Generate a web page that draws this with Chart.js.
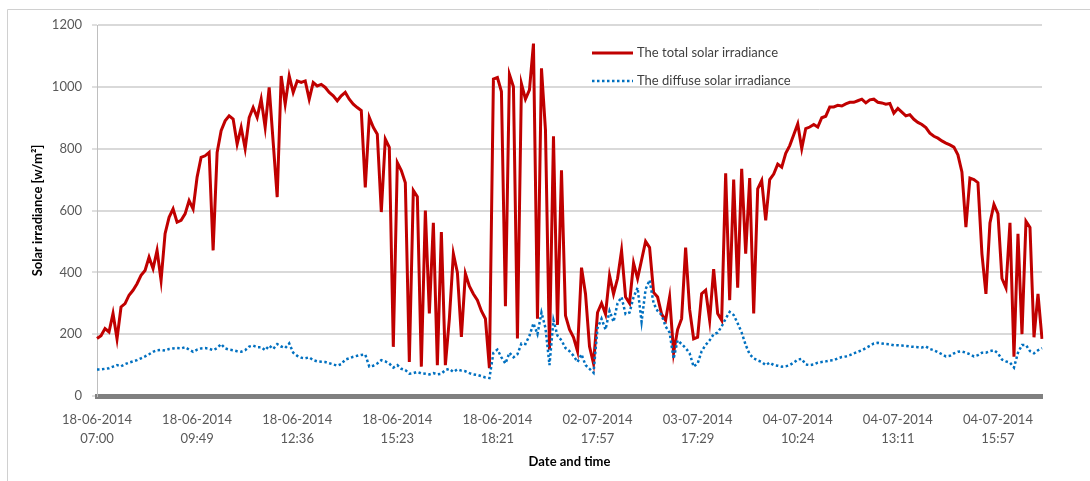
<!DOCTYPE html>
<html>
<head>
<meta charset="utf-8">
<script src="https://cdn.jsdelivr.net/npm/chart.js@4"></script>
<style>
  html, body { margin: 0; padding: 0; background: #fff; }
  #wrap { position: relative; width: 1090px; height: 481px; }
</style>
</head>
<body>
<div id="wrap"><canvas id="solar" width="1090" height="481"></canvas></div>
<script>
// readings, one every ~4 min of plotted time
var totalSolar = [
  186,195,218,207,267,185,288,299,326,342,
  363,390,406,449,412,471,374,525,578,605,
  562,568,589,632,605,708,772,777,788,471,
  788,858,890,906,896,815,869,800,900,933,
  901,960,869,998,820,643,1035,944,1035,982,
  1019,1014,1019,960,1014,1003,1008,998,982,971,
  955,971,982,960,944,933,923,675,901,869,
  847,595,831,804,159,755,729,690,110,665,
  645,95,600,267,560,100,530,100,250,460,
  400,191,396,355,330,310,275,250,90,1025,
  1030,985,290,1040,1000,186,1010,960,990,1140,
  250,1060,860,150,840,230,730,260,215,190,
  145,415,330,160,105,270,300,265,390,330,
  380,470,320,300,430,380,440,500,480,335,
  320,265,245,320,140,215,250,480,280,185,
  190,331,342,245,410,267,245,720,310,700,
  350,735,460,705,267,670,697,568,700,718,
  750,740,785,810,845,880,800,865,870,878,
  870,900,905,935,935,940,938,945,950,950,
  955,960,948,958,960,950,948,944,946,915,
  930,918,906,910,895,885,878,868,850,840,
  834,825,818,812,805,780,725,546,705,700,
  690,460,330,560,620,590,380,350,560,127,
  525,200,565,545,190,330,185
];

var diffuseSolar = [
  86,86,88,90,95,100,96,103,108,112,
  116,122,128,135,143,148,149,147,152,154,
  155,154,158,150,143,150,154,155,153,148,
  155,168,154,150,148,145,143,148,160,163,
  158,158,148,163,152,168,160,155,170,140,
  130,124,122,125,116,112,111,110,106,102,
  98,103,118,122,127,130,133,134,95,98,
  105,116,112,105,92,100,88,84,72,74,
  78,73,72,70,74,70,72,84,88,78,
  86,82,80,74,70,68,64,60,58,140,
  150,125,105,140,125,135,170,168,195,235,
  200,270,220,100,245,195,180,155,145,130,
  110,135,100,88,75,220,250,215,275,240,
  300,320,265,270,320,350,240,345,375,300,
  275,262,225,205,120,180,168,155,138,95,
  105,145,165,180,200,205,225,250,272,262,
  235,205,165,135,122,115,110,100,108,100,
  98,95,96,100,108,118,120,102,100,102,
  108,110,112,115,116,122,126,128,132,138,
  143,148,155,162,170,172,170,168,167,164,
  164,163,162,160,159,158,157,160,152,148,
  142,135,128,130,138,143,144,140,135,128,
  132,140,140,145,148,138,118,112,108,92,
  140,165,165,145,138,148,155
];

var tickLabels = [
  ['18-06-2014', '07:00'],
  ['18-06-2014', '09:49'],
  ['18-06-2014', '12:36'],
  ['18-06-2014', '15:23'],
  ['18-06-2014', '18:21'],
  ['02-07-2014', '17:57'],
  ['03-07-2014', '17:29'],
  ['04-07-2014', '10:24'],
  ['04-07-2014', '13:11'],
  ['04-07-2014', '15:57']
];
var labelStep = 25;

var seriesNames = ['The total solar irradiance', 'The diffuse solar irradiance'];

var FONT = 'Lato, "Liberation Sans", sans-serif';

// category per sample
var labels = [];
for (var i = 0; i < totalSolar.length; i++) {
  labels.push(i);
}

// white background + the thin frame on top/left
var framePlugin = {
  id: 'frame',
  beforeDraw: function (chart) {
    var c = chart.ctx;
    c.save();
    c.fillStyle = '#ffffff';
    c.fillRect(0, 0, chart.width, chart.height);
    c.strokeStyle = '#d0d0d0';
    c.lineWidth = 1;
    c.beginPath();
    c.moveTo(7.5, chart.height);
    c.lineTo(7.5, 9.5);
    c.lineTo(chart.width, 9.5);
    c.stroke();
    c.restore();
  }
};

// legend sits inside the plot, upper right
var legendPlugin = {
  id: 'insideLegend',
  afterDraw: function (chart) {
    var c = chart.ctx;
    var x0 = 592, x1 = 633;
    var rows = [53, 81];
    c.save();
    c.font = '13px ' + FONT;
    c.fillStyle = '#404040';
    c.textBaseline = 'middle';
    for (var k = 0; k < chart.data.datasets.length; k++) {
      var ds = chart.data.datasets[k];
      c.beginPath();
      c.strokeStyle = ds.borderColor;
      c.lineWidth = ds.borderWidth;
      c.setLineDash(ds.borderDash || []);
      c.moveTo(x0, rows[k]);
      c.lineTo(x1, rows[k]);
      c.stroke();
      c.setLineDash([]);
      c.fillText(ds.label, x1 + 4, rows[k]);
    }
    c.restore();
  }
};

var ctx = document.getElementById('solar').getContext('2d');
var solarChart = new Chart(ctx, {
  type: 'line',
  data: {
    labels: labels,
    datasets: [
      {
        label: seriesNames[0],
        data: totalSolar,
        borderColor: '#c00000',
        borderWidth: 3,
        pointRadius: 0,
        tension: 0,
        order: 1
      },
      {
        label: seriesNames[1],
        data: diffuseSolar,
        borderColor: '#0070c0',
        borderWidth: 2.5,
        borderDash: [2.5, 2.5],
        pointRadius: 0,
        tension: 0,
        order: 0
      }
    ]
  },
  options: {
    responsive: false,
    animation: false,
    events: [],
    layout: { padding: { left: 0, top: 25, right: 48, bottom: 0 } },
    plugins: {
      legend: { display: false },
      tooltip: { enabled: false }
    },
    scales: {
      x: {
        type: 'category',
        offset: false,
        grid: { display: false, drawTicks: false },
        border: { display: true, color: '#808080', width: 5 },
        ticks: {
          autoSkip: false,
          maxRotation: 0,
          minRotation: 0,
          padding: 15,
          color: '#595959',
          font: { family: FONT, size: 13, lineHeight: 1.42 },
          callback: function (val, idx) {
            return idx % labelStep === 0 ? tickLabels[idx / labelStep] : '';
          }
        },
        title: {
          display: true,
          text: 'Date and time',
          color: '#000000',
          font: { family: FONT, size: 13, weight: 'bold' },
          padding: { top: 0, bottom: 11 }
        },
        afterFit: function (scale) { scale.height = 85; }
      },
      y: {
        min: 0,
        max: 1200,
        ticks: {
          stepSize: 200,
          padding: 10,
          color: '#595959',
          font: { family: FONT, size: 13 },
          callback: function (v) { return String(v); }
        },
        grid: {
          color: '#d9d9d9',
          lineWidth: 2,
          tickLength: 5,
          tickColor: '#bfbfbf',
          tickWidth: 1
        },
        border: { display: true, color: '#bfbfbf', width: 1 },
        title: {
          display: true,
          text: 'Solar irradiance [w/m\u00b2]',
          color: '#000000',
          font: { family: FONT, size: 13, weight: 'bold' },
          padding: { top: 30, bottom: 0 }
        },
        afterFit: function (scale) { scale.width = 97; }
      }
    }
  },
  plugins: [framePlugin, legendPlugin]
});
</script>
</body>
</html>
